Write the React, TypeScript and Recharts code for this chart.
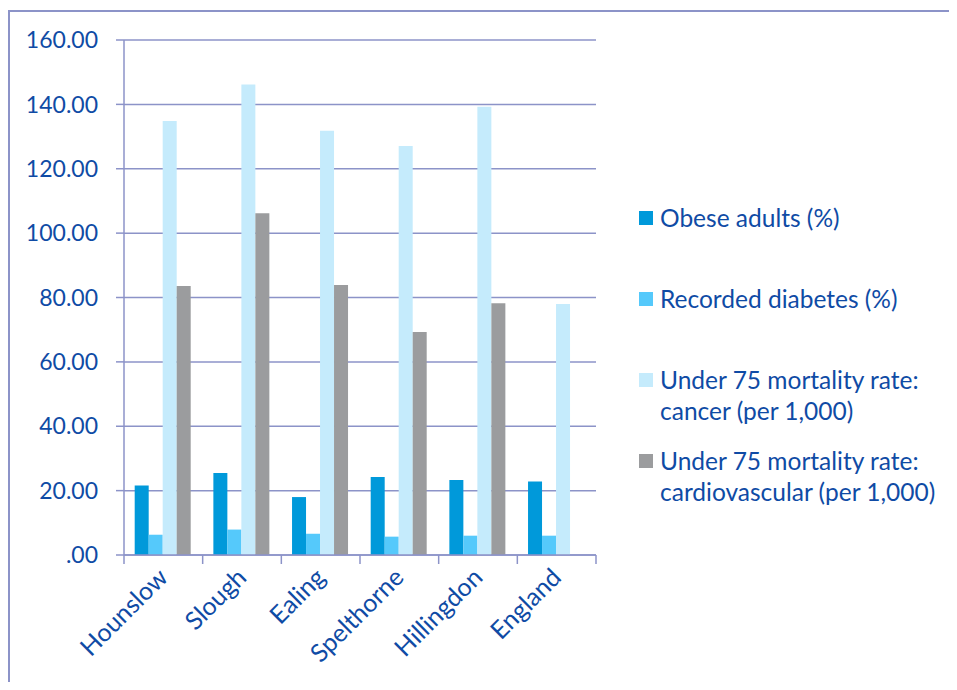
import React from 'react';
import { BarChart, Bar, XAxis, YAxis, CartesianGrid, Legend } from 'recharts';

const categories = ['Hounslow', 'Slough', 'Ealing', 'Spelthorne', 'Hillingdon', 'England'];
const obeseAdults = [21.6, 25.5, 18.0, 24.2, 23.3, 22.8];
const recordedDiabetes = [6.3, 7.9, 6.6, 5.7, 6.0, 6.0];
const cancerMortality = [134.8, 146.2, 131.8, 127.1, 139.3, 78.0];
const cardioMortality: (number | null)[] = [83.6, 106.2, 83.9, 69.3, 78.2, null];
const yTicks = [0, 20, 40, 60, 80, 100, 120, 140, 160];

const seriesKeys = ['obese', 'diabetes', 'cancer', 'cardio'];
const seriesNames = [
  'Obese adults (%)',
  'Recorded diabetes (%)',
  'Under 75 mortality rate: cancer (per 1,000)',
  'Under 75 mortality rate: cardiovascular (per 1,000)',
];
const legendLines = [
  ['Obese adults (%)'],
  ['Recorded diabetes (%)'],
  ['Under 75 mortality rate:', 'cancer (per 1,000)'],
  ['Under 75 mortality rate:', 'cardiovascular (per 1,000)'],
];
const seriesColors = ['#0099DA', '#55C9FB', '#C5EBFC', '#9B9C9E'];

const data = categories.map((c, i) => ({
  name: c,
  obese: obeseAdults[i],
  diabetes: recordedDiabetes[i],
  cancer: cancerMortality[i],
  cardio: cardioMortality[i],
}));

const TEXT = '#0F4BA5';
const GRID = '#8C93C8';
const FONT = 'Lato, "Noto Sans", sans-serif';

const XTick = (props: any) => {
  const { x, y, payload, index, width, visibleTicksCount } = props;
  const bw = width && visibleTicksCount ? width / visibleTicksCount : 0;
  const tx = x + 6;
  const ty = y + 24;
  return (
    <g>
      <line x1={x - bw / 2} y1={y} x2={x - bw / 2} y2={y + 9} stroke={GRID} strokeWidth={1.5} />
      {index === visibleTicksCount - 1 && (
        <line x1={x + bw / 2} y1={y} x2={x + bw / 2} y2={y + 9} stroke={GRID} strokeWidth={1.5} />
      )}
      <text
        x={tx}
        y={ty}
        textAnchor="end"
        fill={TEXT}
        fontSize={25}
        fontFamily={FONT}
        transform={`rotate(-45, ${tx}, ${ty})`}
      >
        {payload.value}
      </text>
    </g>
  );
};

const LegendContent = () => {
  const gaps = [0, 50, 50, 19];
  return (
    <div style={{ fontFamily: FONT, fontSize: 24.5, color: TEXT, lineHeight: '31px' }}>
      {legendLines.map((lines, i) => (
        <div key={i} style={{ display: 'flex', marginTop: gaps[i] }}>
          <div
            style={{
              width: 14,
              height: 14,
              background: seriesColors[i],
              marginTop: 9,
              marginRight: 7,
              flexShrink: 0,
            }}
          />
          <div>
            {lines.map((l, j) => (
              <div key={j} style={{ whiteSpace: 'nowrap' }}>
                {l}
              </div>
            ))}
          </div>
        </div>
      ))}
    </div>
  );
};

export default function App() {
  return (
    <div style={{ position: 'relative', width: 949, height: 674, overflow: 'hidden' }}>
      <div
        style={{
          position: 'absolute',
          left: 0,
          top: 2,
          width: 1000,
          height: 1000,
          borderTop: `2px solid ${GRID}`,
          borderLeft: `2px solid ${GRID}`,
          boxSizing: 'border-box',
        }}
      />
      <div style={{ position: 'absolute', left: 0, top: 0 }}>
        <BarChart
          width={949}
          height={674}
          data={data}
          margin={{ top: 32, right: 361, left: 0, bottom: 17 }}
          barCategoryGap="13.6%"
          barGap={0}
        >
          <CartesianGrid vertical={false} stroke={GRID} strokeWidth={1.5} />
          <XAxis
            dataKey="name"
            height={110}
            axisLine={{ stroke: GRID, strokeWidth: 1.5 }}
            tickLine={false}
            tickSize={0}
            tickMargin={0}
            interval={0}
            tick={<XTick />}
          />
          <YAxis
            width={116}
            domain={[0, 160]}
            ticks={yTicks}
            interval={0}
            axisLine={{ stroke: GRID, strokeWidth: 1.5 }}
            tickLine={{ stroke: GRID, strokeWidth: 1.5 }}
            tickSize={8}
            tickMargin={18}
            tick={{ fill: TEXT, fontSize: 23, fontFamily: FONT }}
            tickFormatter={(v: number) => (v === 0 ? '.00' : v.toFixed(2))}
          />
          <Legend
            layout="vertical"
            align="center"
            verticalAlign="middle"
            wrapperStyle={{ left: 631, top: 194, width: 320 }}
            content={<LegendContent />}
          />
          {seriesKeys.map((k, i) => (
            <Bar
              key={k}
              dataKey={k}
              name={seriesNames[i]}
              fill={seriesColors[i]}
              isAnimationActive={false}
            />
          ))}
        </BarChart>
      </div>
    </div>
  );
}
